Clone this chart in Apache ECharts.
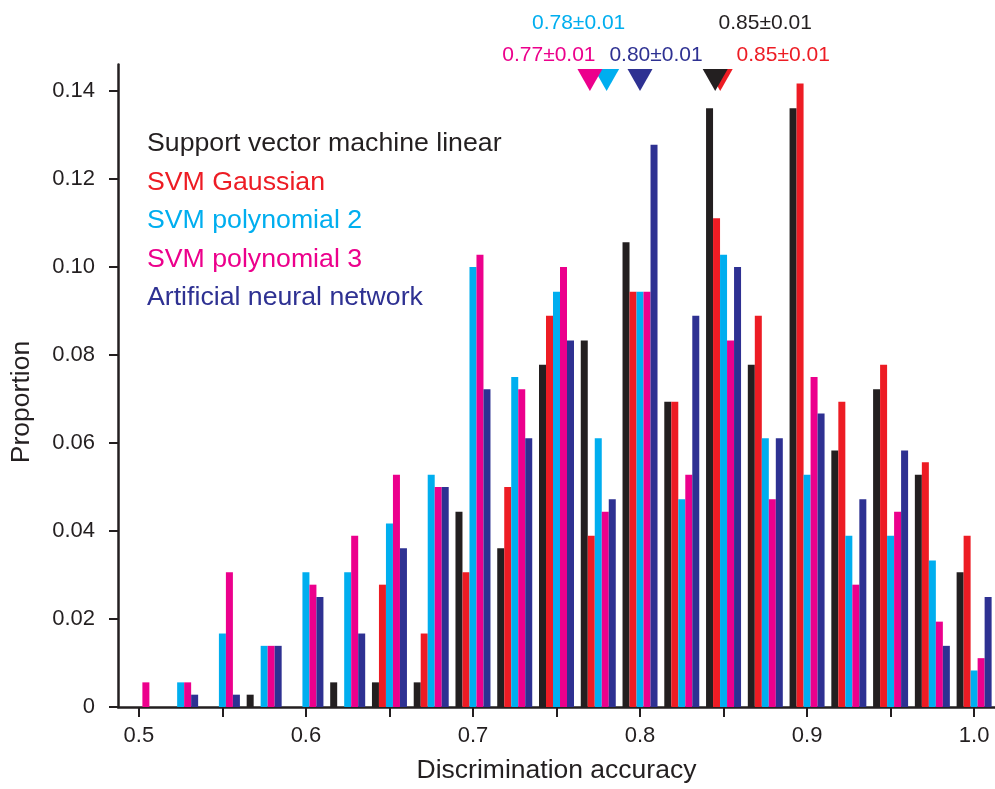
<!DOCTYPE html>
<html>
<head>
<meta charset="utf-8">
<script src="https://cdn.jsdelivr.net/npm/echarts@6/dist/echarts.min.js"></script>
<style>
  html, body { margin: 0; padding: 0; background: #fff; }
  #chart { width: 995px; height: 789px; }
</style>
</head>
<body>
<div id="chart"></div>
<script>
// bins of discrimination accuracy
const categories = ['0.5', '0.525', '0.55', '0.575', '0.6', '0.625', '0.65', '0.675', '0.7', '0.725', '0.75',
  '0.775', '0.8', '0.825', '0.85', '0.875', '0.9', '0.925', '0.95', '0.975', '1.0'];

const seriesNames = ['Support vector machine linear', 'SVM Gaussian', 'SVM polynomial 2', 'SVM polynomial 3', 'Artificial neural network'];

const svmLinear = [0, 0, 0, 0.0028, 0, 0.0056, 0.0056, 0.0056, 0.0444, 0.0361, 0.0778,
  0.0833, 0.1056, 0.0694, 0.1361, 0.0778, 0.1361, 0.0583, 0.0722, 0.0528, 0.0306];
const svmGaussian = [0, 0, 0, 0, 0, 0, 0.0278, 0.0167, 0.0306, 0.0500, 0.0889,
  0.0389, 0.0944, 0.0694, 0.1111, 0.0889, 0.1417, 0.0694, 0.0778, 0.0556, 0.0389];
const svmPoly2 = [0, 0.0056, 0.0167, 0.0139, 0.0306, 0.0306, 0.0417, 0.0528, 0.1000, 0.0750, 0.0944,
  0.0611, 0.0944, 0.0472, 0.1028, 0.0611, 0.0528, 0.0389, 0.0389, 0.0333, 0.0083];
const svmPoly3 = [0.0056, 0.0056, 0.0306, 0.0139, 0.0278, 0.0389, 0.0528, 0.0500, 0.1028, 0.0722, 0.1000,
  0.0444, 0.0944, 0.0528, 0.0833, 0.0472, 0.0750, 0.0278, 0.0444, 0.0194, 0.0111];
const annNet = [0, 0.0028, 0.0028, 0.0139, 0.0250, 0.0167, 0.0361, 0.0500, 0.0722, 0.0611, 0.0833,
  0.0472, 0.1278, 0.0889, 0.1000, 0.0611, 0.0667, 0.0472, 0.0583, 0.0139, 0.0250];

// mean accuracy per classifier (same order as seriesNames)
const meanValues = [0.845, 0.848, 0.78, 0.77, 0.80];
const meanLabels = ['0.85±0.01', '0.85±0.01', '0.78±0.01', '0.77±0.01', '0.80±0.01'];

const yTicks = [0, 0.02, 0.04, 0.06, 0.08, 0.10, 0.12, 0.14];

const colors = ['#231f20', '#ed1c24', '#00aeef', '#ec008c', '#2e3192'];
const textColor = '#231f20';
const font = "'Liberation Sans', Arial, Helvetica, sans-serif";

// label offsets for mean markers, and drawing order (later on top)
const labelOffsets = [[50, -57], [63, -25], [-28, -57], [-41, -25], [16, -25]];
const markerOrder = [2, 3, 4, 1, 0];
const markerLevel = 0.1425;

const allSeries = [svmLinear, svmGaussian, svmPoly2, svmPoly3, annNet];

const chart = echarts.init(document.getElementById('chart'), null, { renderer: 'canvas' });

const option = {
  animation: false,
  textStyle: { fontFamily: font },
  grid: { left: 118, top: 64.6, width: 878, height: 642.4 },
  legend: {
    orient: 'vertical',
    left: 142,
    top: 129,
    padding: 0,
    icon: 'none',
    itemWidth: 0,
    itemHeight: 14,
    itemGap: 8.4,
    selectedMode: false,
    textStyle: { fontSize: 26.7, lineHeight: 30, fontFamily: font },
    data: seriesNames.map((n, i) => ({ name: n, textStyle: { color: colors[i] } })),
  },
  xAxis: [
    {
      type: 'category',
      data: categories,
      boundaryGap: true,
      name: 'Discrimination accuracy',
      nameLocation: 'middle',
      nameGap: 50,
      nameTextStyle: { fontSize: 26.5, color: textColor, fontFamily: font },
      axisLine: { lineStyle: { color: textColor, width: 2.5 } },
      axisTick: { show: true, alignWithLabel: true, interval: 1, length: 10, lineStyle: { color: textColor, width: 2 } },
      axisLabel: { interval: 3, fontSize: 22, color: textColor, margin: 18, fontFamily: font },
      splitLine: { show: false },
    },
    {
      type: 'value',
      min: 0.4875,
      max: 1.0125,
      show: false,
    },
  ],
  yAxis: {
    type: 'value',
    min: 0,
    max: 0.146,
    axisLine: { show: true, lineStyle: { color: textColor, width: 2.5 } },
    axisTick: { show: true, length: 9, customValues: yTicks, lineStyle: { color: textColor, width: 2 } },
    axisLabel: {
      customValues: yTicks,
      fontSize: 22,
      color: textColor,
      margin: 23,
      fontFamily: font,
      formatter: v => (v === 0 ? '0' : v.toFixed(2)),
    },
    splitLine: { show: false },
  },
  graphic: [
    {
      type: 'text',
      x: 22,
      y: 402,
      rotation: Math.PI / 2,
      style: {
        text: 'Proportion',
        fill: textColor,
        font: `26.5px ${font}`,
        textAlign: 'center',
        textVerticalAlign: 'middle',
      },
    },
  ],
  series: [
    ...allSeries.map((data, i) => ({
      name: seriesNames[i],
      type: 'bar',
      data: data,
      barWidth: 7,
      barGap: '0%',
      itemStyle: { color: colors[i] },
      emphasis: { disabled: true },
    })),
    {
      type: 'scatter',
      xAxisIndex: 1,
      yAxisIndex: 0,
      clip: false,
      symbol: 'triangle',
      symbolRotate: 180,
      symbolSize: [25, 22],
      itemStyle: { opacity: 1 },
      emphasis: { disabled: true },
      data: markerOrder.map(i => ({
        value: [meanValues[i], markerLevel],
        itemStyle: { color: colors[i], opacity: 1 },
        label: {
          show: true,
          position: 'inside',
          formatter: meanLabels[i],
          color: colors[i],
          opacity: 1,
          fontSize: 21,
          fontFamily: font,
          offset: labelOffsets[i],
        },
      })),
    },
  ],
};

chart.setOption(option);
</script>
</body>
</html>
